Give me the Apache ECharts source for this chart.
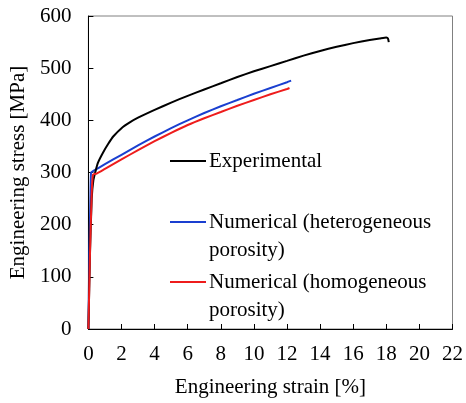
<!DOCTYPE html>
<html><head><meta charset="utf-8">
<script src="https://cdn.jsdelivr.net/npm/echarts@6/dist/echarts.min.js"></script>
<style>html,body{margin:0;padding:0;background:#fff}#c{width:466px;height:403px}</style>
</head><body><div id="c"></div>
<script>
const expStrain = [0, 0.1, 0.2, 0.3, 0.45, 0.58, 0.88, 1.2, 1.5, 2, 2.5, 3, 4, 5, 6, 7, 8, 9, 10, 11, 12, 13, 14, 15, 16, 17, 17.6, 18.0, 18.1, 18.15];
const expStress = [0, 150, 250, 285, 305, 319, 338, 355, 369, 385, 396, 405, 420, 434, 447, 459, 471, 483, 494, 504, 514, 524, 533, 541, 548, 554, 557, 559, 557, 550];
const hetStrain = [0, 0.06, 0.12, 0.16, 0.3, 1, 2, 3, 4, 5, 6, 7, 8, 9, 10, 11, 12, 12.25];
const hetStress = [0, 150, 250, 300, 303, 316, 334, 352, 369, 385, 400, 414, 427, 439, 451, 462, 473, 476];
const homStrain = [0, 0.1, 0.2, 0.28, 0.5, 1, 2, 3, 4, 5, 6, 7, 8, 9, 10, 11, 12, 12.15];
const homStress = [0, 150, 260, 296, 298, 307, 325, 343, 360, 376, 391, 404, 416, 428, 439, 450, 460, 462];
const seriesNames = ['Experimental', 'Numerical (heterogeneous\nporosity)', 'Numerical (homogeneous\nporosity)'];
const seriesColors = ['#000000', '#1a3fd0', '#ee1c1c'];

const zip = (a, b) => a.map((v, i) => [v, b[i]]);
const font = 'Liberation Serif';
const chart = echarts.init(document.getElementById('c'));
const legendY = [161, 222, 282];
const graphic = [];
seriesNames.forEach((n, i) => {
  graphic.push({type: 'line', shape: {x1: 170, y1: legendY[i], x2: 206, y2: legendY[i]}, style: {stroke: seriesColors[i], lineWidth: 2}});
  graphic.push({type: 'text', x: 209, y: legendY[i] - 14, style: {text: n, font: '21px "Liberation Serif"', fill: '#000', lineHeight: 28, textVerticalAlign: 'top'}});
});
const lineSeries = (i, x, y, z) => ({
  name: seriesNames[i], type: 'line', data: zip(x, y), showSymbol: false,
  smooth: 0.15, lineStyle: {color: seriesColors[i], width: 2}, z: z
});
chart.setOption({
  animation: false,
  grid: {left: 86, top: 16, right: 12, bottom: 73, show: true, borderColor: '#808080', borderWidth: 1},
  xAxis: {
    type: 'value', min: 0, max: 22, interval: 2,
    name: 'Engineering strain [%]', nameLocation: 'middle', nameGap: 48,
    nameTextStyle: {fontFamily: font, fontSize: 21, color: '#000'},
    axisLine: {lineStyle: {color: '#000', width: 1}},
    axisTick: {inside: true, length: 5, lineStyle: {color: '#000'}},
    axisLabel: {fontFamily: font, fontSize: 21, color: '#000', margin: 15},
    splitLine: {show: false}
  },
  yAxis: {
    type: 'value', min: 0, max: 600, interval: 100,
    name: 'Engineering stress [MPa]', nameLocation: 'middle', nameGap: 58,
    nameTextStyle: {fontFamily: font, fontSize: 21, color: '#000'},
    axisLine: {show: true, lineStyle: {color: '#000', width: 1}},
    axisTick: {show: true, inside: true, length: 5, lineStyle: {color: '#000'}},
    axisLabel: {fontFamily: font, fontSize: 21, color: '#000', margin: 17},
    splitLine: {show: false}
  },
  series: [
    lineSeries(0, expStrain, expStress, 3),
    lineSeries(1, hetStrain, hetStress, 2),
    lineSeries(2, homStrain, homStress, 4)
  ],
  graphic: graphic
});
</script></body></html>
